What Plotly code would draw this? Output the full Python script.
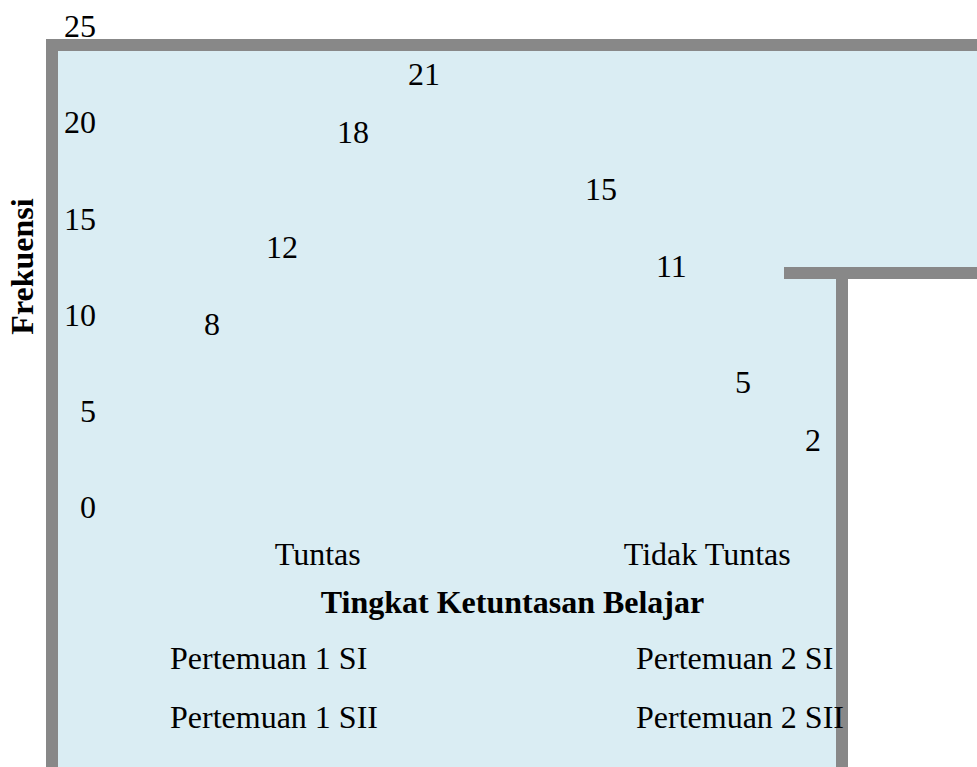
import plotly.graph_objects as go

# ---- data -------------------------------------------------------------
categories = ["Tuntas", "Tidak Tuntas"]
series_names = ["Pertemuan 1 SI", "Pertemuan 1 SII", "Pertemuan 2 SI", "Pertemuan 2 SII"]
p1_si = [8, 15]
p1_sii = [12, 11]
p2_si = [18, 5]
p2_sii = [21, 2]
y_tick_values = [0, 5, 10, 15, 20, 25]
x_title = "Tingkat Ketuntasan Belajar"
y_title = "Frekuensi"

series_values = [p1_si, p1_sii, p2_si, p2_sii]

# ---- geometry / style -------------------------------------------------
W, H = 977, 767
PLOT_L, PLOT_R, PLOT_T, PLOT_B = 123, 902, 26, 507
FONT = "Liberation Serif, Times New Roman, serif"
FS = 32
PANEL = "#daedf3"
FRAME = "#888888"
BARGAP = 0.274


def px_x(px):
    return (px - PLOT_L) / (PLOT_R - PLOT_L)


def px_y(py):
    return (PLOT_B - py) / (PLOT_B - PLOT_T)


# legend layout: first column entries, second column entries
legend_of = ["legend", "legend2", "legend", "legend2"]
entry_width = [421, 421, 210, 210]

fig = go.Figure()
for name, vals, lg, ew in zip(series_names, series_values, legend_of, entry_width):
    fig.add_trace(go.Bar(
        name=name,
        x=categories,
        y=vals,
        marker=dict(color="rgba(0,0,0,0)", line=dict(width=0)),
        legend=lg,
        legendwidth=ew,
        hoverinfo="skip",
    ))

# value labels above each (transparent) bar
n = len(series_values)
group_w = 1 - BARGAP
annotations = []
for i, vals in enumerate(series_values):
    off = -group_w / 2 + (i + 0.5) * group_w / n
    for j, v in enumerate(vals):
        annotations.append(dict(
            x=j + off, y=v, xref="x", yref="y",
            text=str(v), showarrow=False,
            yanchor="middle", yshift=29,
            font=dict(family=FONT, size=FS, color="black"),
        ))

# panel background and frame
def path(points, close=False):
    s = "M " + " L ".join(f"{px_x(x):.5f},{px_y(y):.5f}" for x, y in points)
    return s + (" Z" if close else "")

shapes = [
    dict(type="path", xref="paper", yref="paper", layer="below",
         path=path([(52, 790), (52, 45), (990, 45), (990, 273), (842, 273), (842, 790)], close=True),
         fillcolor=PANEL, line=dict(width=0)),
    dict(type="path", xref="paper", yref="paper", layer="below",
         path=path([(52, 790), (52, 45), (990, 45)]),
         line=dict(color=FRAME, width=12)),
    dict(type="path", xref="paper", yref="paper", layer="below",
         path=path([(784, 273), (990, 273)]),
         line=dict(color=FRAME, width=12)),
    dict(type="path", xref="paper", yref="paper", layer="below",
         path=path([(842, 273), (842, 790)]),
         line=dict(color=FRAME, width=12)),
]

legend_common = dict(
    orientation="h", xanchor="left", yanchor="middle",
    bgcolor="rgba(0,0,0,0)", borderwidth=0,
    font=dict(family=FONT, size=FS, color="black"),
)

fig.update_layout(
    width=W, height=H,
    margin=dict(l=PLOT_L, r=W - PLOT_R, t=PLOT_T, b=H - PLOT_B, autoexpand=False),
    paper_bgcolor="white",
    plot_bgcolor="rgba(0,0,0,0)",
    barmode="group",
    bargap=BARGAP,
    bargroupgap=0,
    font=dict(family=FONT, size=FS, color="black"),
    showlegend=True,
    legend=dict(x=px_x(130), y=px_y(657), **legend_common),
    legend2=dict(x=px_x(130), y=px_y(716), **legend_common),
    annotations=annotations,
    shapes=shapes,
    xaxis=dict(
        type="category", range=[-0.5, 1.5],
        showgrid=False, zeroline=False, showline=False, ticks="",
        ticklabelstandoff=25,
        tickfont=dict(family=FONT, size=FS, color="black"),
        title=dict(text=x_title, standoff=19,
                   font=dict(family=FONT, size=FS, color="black", weight="bold")),
    ),
    yaxis=dict(
        range=[0, 25], tickvals=y_tick_values,
        showgrid=False, zeroline=False, showline=False, ticks="",
        ticklabelstandoff=26,
        tickfont=dict(family=FONT, size=FS, color="black"),
        title=dict(text=y_title, standoff=20,
                   font=dict(family=FONT, size=FS, color="black", weight="bold")),
    ),
)

fig.write_html("out.html")
